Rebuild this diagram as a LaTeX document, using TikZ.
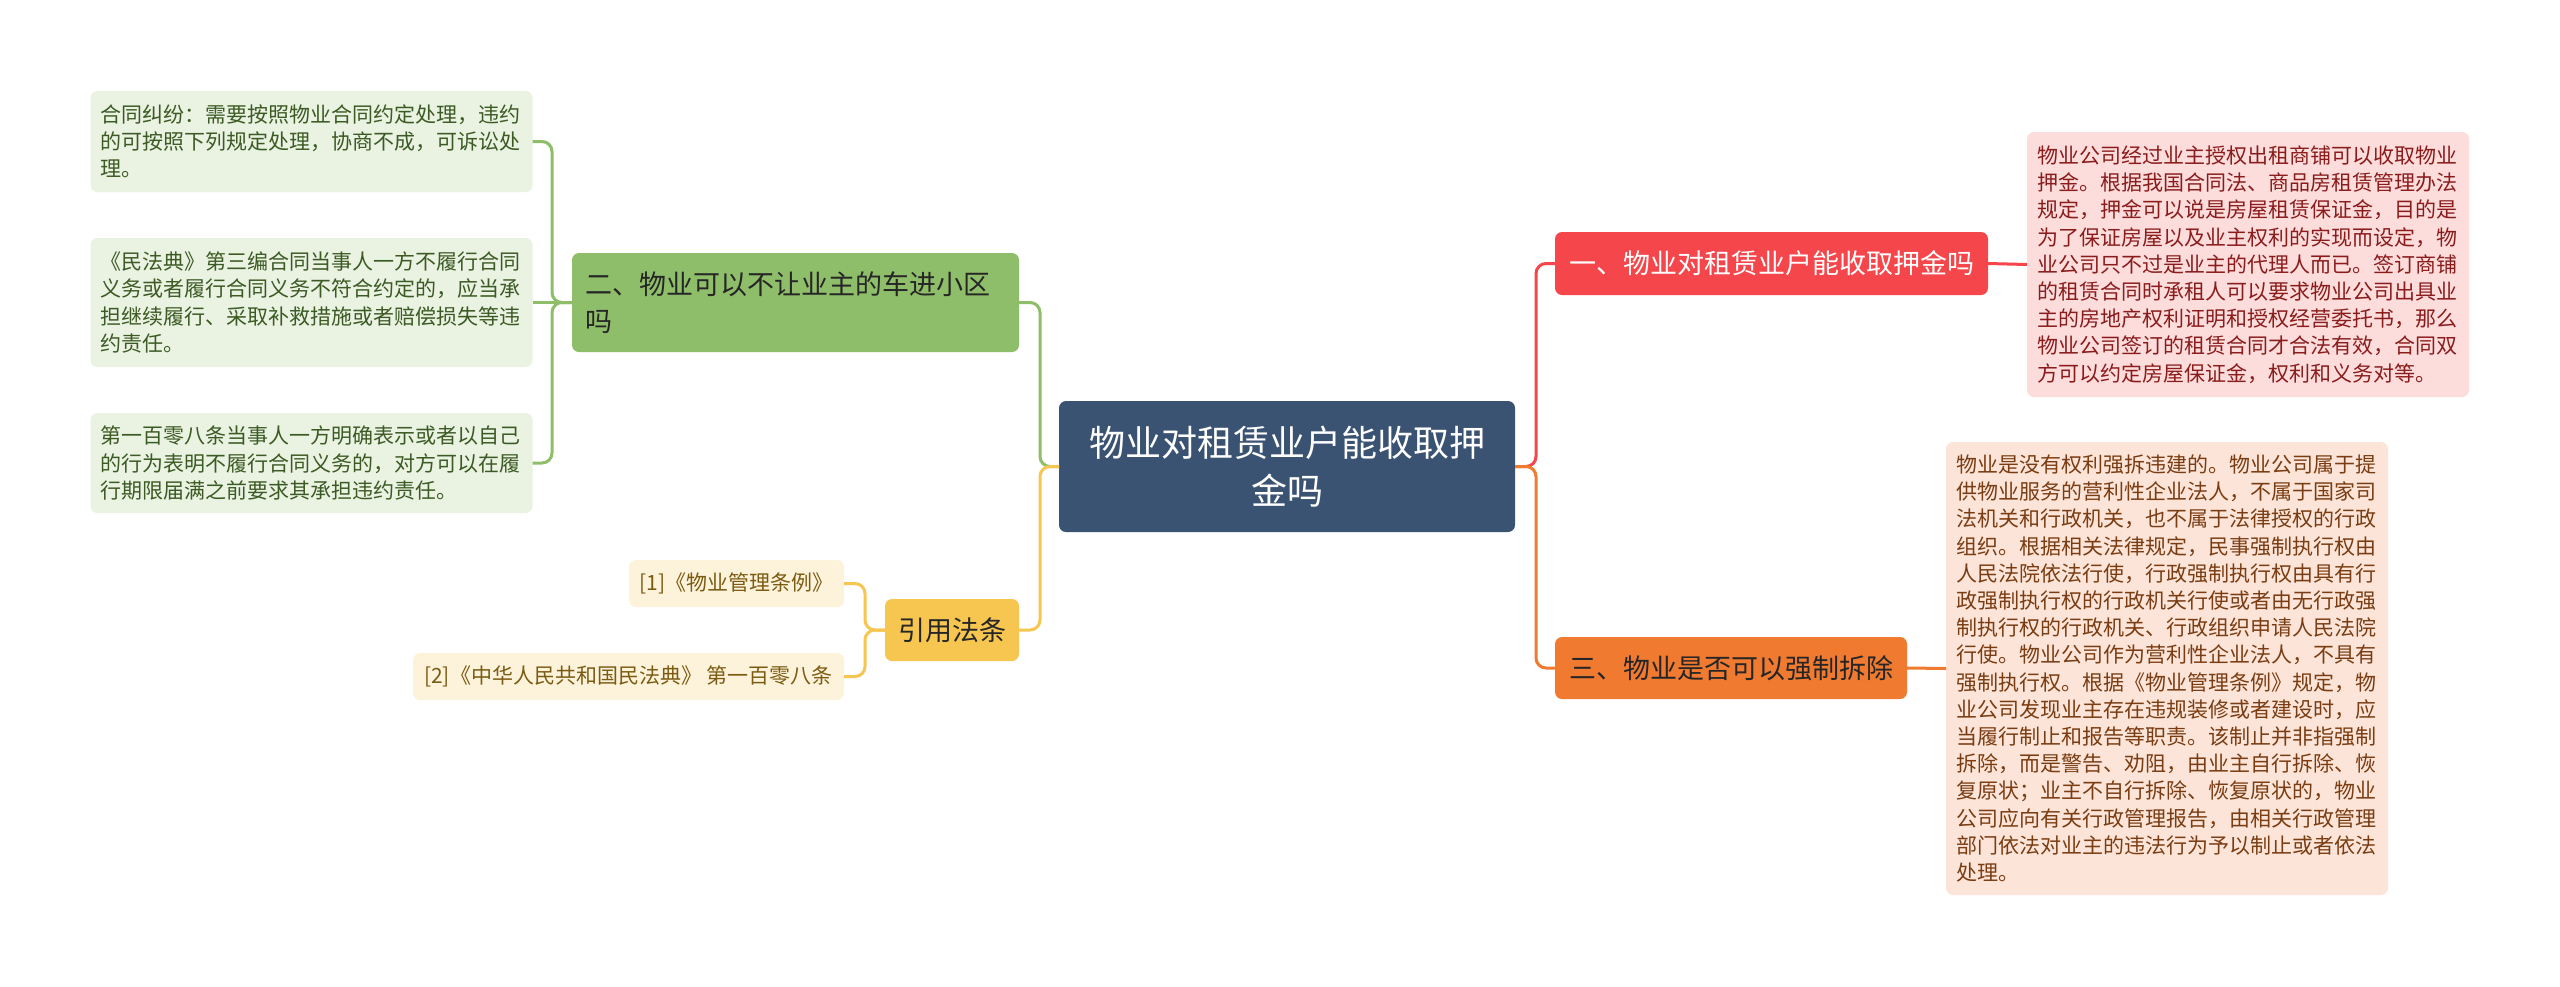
\documentclass[tikz,border=0pt]{standalone}
\usepackage{fontspec}
\setmainfont{Noto Sans CJK SC}
\definecolor{rootc}{HTML}{3A5372}
\definecolor{gbr}{HTML}{8FBE6A}
\definecolor{glf}{HTML}{EAF2E2}
\definecolor{gtx}{HTML}{3C5A24}
\definecolor{ybr}{HTML}{F6C650}
\definecolor{ylf}{HTML}{FDF3DB}
\definecolor{ytx}{HTML}{7B5B12}
\definecolor{rbr}{HTML}{F5464B}
\definecolor{rlf}{HTML}{FDDCDC}
\definecolor{rtx}{HTML}{8A1C1C}
\definecolor{obr}{HTML}{F07A30}
\definecolor{olf}{HTML}{FCE5D8}
\definecolor{otx}{HTML}{7A3C12}
\begin{document}
\begin{tikzpicture}[x=1pt,y=-1pt,
  box/.style={rounded corners=7, inner ysep=0, outer sep=0},
  rootbox/.style={box, fill=rootc, text=white, align=center, inner xsep=0, font=\fontsize{36}{48}\selectfont},
  brbox/.style={box, font=\fontsize{27}{37}\selectfont},
  leafbox/.style={box, inner xsep=10, text width=422, align=left, font=\fontsize{21}{27.2}\selectfont},
  conn/.style={line width=3, rounded corners=10},
]
\fill[white] (0,0) rectangle (2560,986);
\useasboundingbox (0,0) rectangle (2560,986);

% root
\node[rootbox, minimum width=456, minimum height=131] (root) at (1287,466.5) {物业对租赁业户能收取押\\金吗};

% green branch
\node[brbox, fill=gbr, text=black!85, align=left, inner xsep=13, text width=421, minimum height=99] (g) at (795.5,302.5) {二、物业可以不让业主的车进小区\\吗};
\node[leafbox, fill=glf, text=gtx, minimum height=101] (gl1) at (311.5,141.5) {合同纠纷：需要按照物业合同约定处理，违约\\的可按照下列规定处理，协商不成，可诉讼处\\理。};
\node[leafbox, fill=glf, text=gtx, minimum height=129] (gl2) at (311.5,302.5) {《民法典》第三编合同当事人一方不履行合同\\义务或者履行合同义务不符合约定的，应当承\\担继续履行、采取补救措施或者赔偿损失等违\\约责任。};
\node[leafbox, fill=glf, text=gtx, minimum height=100] (gl3) at (311.5,463) {第一百零八条当事人一方明确表示或者以自己\\的行为表明不履行合同义务的，对方可以在履\\行期限届满之前要求其承担违约责任。};

% yellow branch
\node[brbox, fill=ybr, text=black!85, inner xsep=0, minimum width=134, minimum height=62] (y) at (952,630) {引用法条};
\node[box, fill=ylf, text=ytx, inner xsep=0, minimum width=215, minimum height=47, font=\fontsize{21}{26}\selectfont] (yl1) at (736.5,583.5) {[1]《物业管理条例》};
\node[box, fill=ylf, text=ytx, inner xsep=0, minimum width=431, minimum height=47, font=\fontsize{21}{26}\selectfont] (yl2) at (628.5,676.5) {[2]《中华人民共和国民法典》 第一百零八条};

% red branch
\node[brbox, fill=rbr, text=white, inner xsep=0, minimum width=433, minimum height=63] (r) at (1771.5,263.5) {一、物业对租赁业户能收取押金吗};
\node[leafbox, fill=rlf, text=rtx, minimum height=265] (rl) at (2248,264.5) {物业公司经过业主授权出租商铺可以收取物业\\押金。根据我国合同法、商品房租赁管理办法\\规定，押金可以说是房屋租赁保证金，目的是\\为了保证房屋以及业主权利的实现而设定，物\\业公司只不过是业主的代理人而已。签订商铺\\的租赁合同时承租人可以要求物业公司出具业\\主的房地产权利证明和授权经营委托书，那么\\物业公司签订的租赁合同才合法有效，合同双\\方可以约定房屋保证金，权利和义务对等。};

% orange branch
\node[brbox, fill=obr, text=black!85, inner xsep=0, minimum width=352, minimum height=62] (o) at (1731,668) {三、物业是否可以强制拆除};
\node[leafbox, fill=olf, text=otx, minimum height=453] (ol) at (2167,668.5) {物业是没有权利强拆违建的。物业公司属于提\\供物业服务的营利性企业法人，不属于国家司\\法机关和行政机关，也不属于法律授权的行政\\组织。根据相关法律规定，民事强制执行权由\\人民法院依法行使，行政强制执行权由具有行\\政强制执行权的行政机关行使或者由无行政强\\制执行权的行政机关、行政组织申请人民法院\\行使。物业公司作为营利性企业法人，不具有\\强制执行权。根据《物业管理条例》规定，物\\业公司发现业主存在违规装修或者建设时，应\\当履行制止和报告等职责。该制止并非指强制\\拆除，而是警告、劝阻，由业主自行拆除、恢\\复原状；业主不自行拆除、恢复原状的，物业\\公司应向有关行政管理报告，由相关行政管理\\部门依法对业主的违法行为予以制止或者依法\\处理。};

% connectors
\draw[conn, gbr] (root.west) -- ++(-19,0) |- (g.east);
\draw[conn, ybr] (root.west) -- ++(-19,0) |- (y.east);
\draw[conn, gbr] (g.west) -- ++(-20,0) |- (gl1.east);
\draw[conn, gbr] (g.west) -- (gl2.east);
\draw[conn, gbr] (g.west) -- ++(-20,0) |- (gl3.east);
\draw[conn, ybr] (y.west) -- ++(-20,0) |- (yl1.east);
\draw[conn, ybr] (y.west) -- ++(-20,0) |- (yl2.east);
\draw[conn, rbr] (root.east) -- ++(21,0) |- (r.west);
\draw[conn, obr] (root.east) -- ++(21,0) |- (o.west);
\draw[conn, rbr] (r.east) -- (rl.west);
\draw[conn, obr] (o.east) -- (ol.west);
\end{tikzpicture}
\end{document}
